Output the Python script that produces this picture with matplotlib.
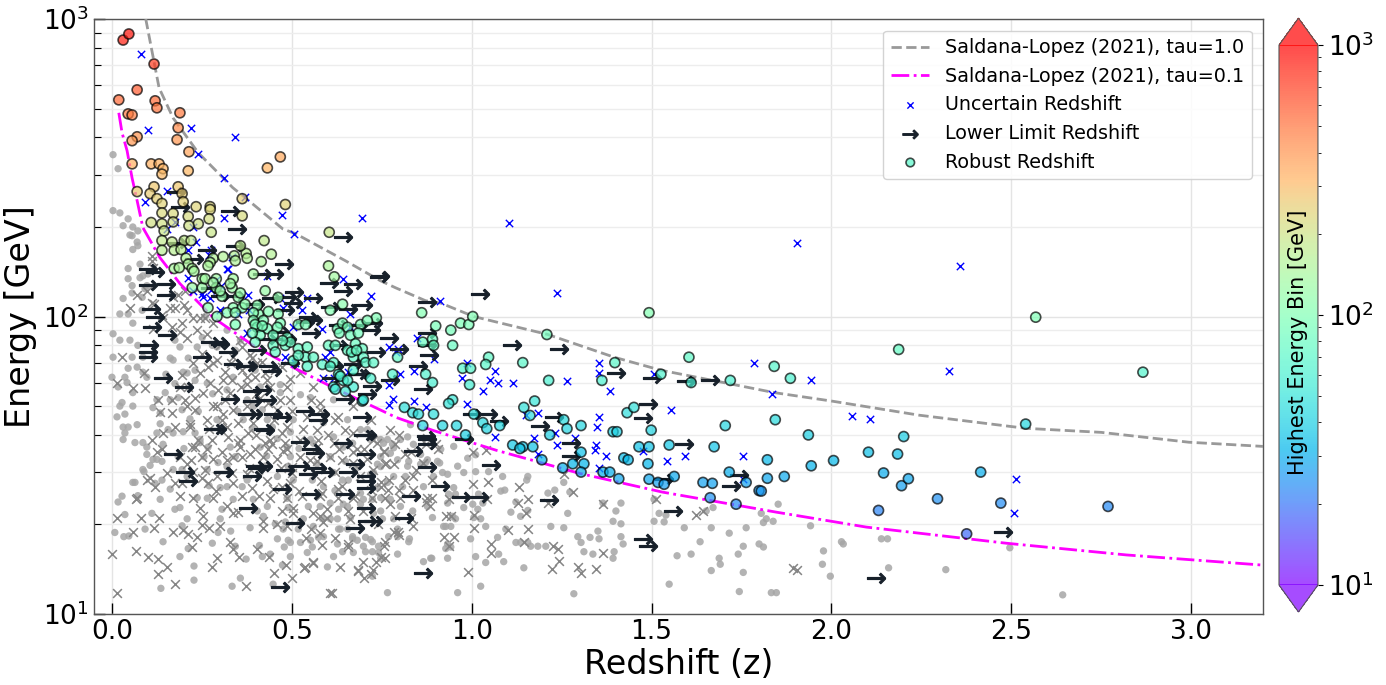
import numpy as np
import matplotlib
matplotlib.use("Agg")
import matplotlib.pyplot as plt
from matplotlib.colors import LogNorm

# ---------------- data (redshift z, energy GeV) ----------------
tau1_z = [0.094, 0.131, 0.17, 0.24, 0.336, 0.37, 0.475, 0.51, 0.649, 0.746, 0.788, 0.872, 0.914,
          1.006, 1.212, 1.396, 1.526, 1.70, 1.841, 2.0, 2.244, 2.54, 2.75, 2.994, 3.2]
tau1_E = [1000, 587, 465, 355, 271, 251, 197, 190, 154, 132, 125, 113, 111,
          100, 87, 73, 66, 60, 55.5, 52, 46.6, 42.1, 40.8, 37.8, 36.6]

tau01_z = [0.019, 0.028, 0.042, 0.056, 0.070, 0.086, 0.133, 0.189, 0.281, 0.392, 0.503, 0.614,
           0.79, 0.893, 1.069, 1.3, 1.53, 1.847, 2.097, 2.486, 2.82, 3.2]
tau01_E = [484, 415, 361, 292, 245, 199, 158, 129, 99.3, 80, 67.5, 57.8,
           45.8, 41.4, 35.5, 29.7, 25.7, 22.0, 19.6, 17.3, 15.8, 14.6]

robust_pts = [
    (0.585, 69), (0.031, 850), (0.047, 891), (0.117, 706), (0.070, 578), (0.019, 535), (0.120, 531), (0.125, 503),
    (0.045, 480), (0.056, 476), (0.189, 484), (0.184, 431), (0.181, 393), (0.070, 402), (0.056, 390), (0.214, 358),
    (0.468, 344), (0.432, 316), (0.056, 326), (0.109, 326), (0.131, 326), (0.142, 314), (0.139, 301), (0.212, 309),
    (0.117, 273), (0.184, 273), (0.195, 259), (0.070, 263), (0.106, 259), (0.125, 249), (0.139, 240), (0.198, 243),
    (0.234, 234), (0.273, 234), (0.273, 229), (0.362, 249), (0.482, 238), (0.139, 223), (0.170, 222), (0.212, 217),
    (0.270, 213), (0.362, 218), (0.109, 207), (0.139, 205), (0.170, 208), (0.240, 205), (0.214, 202), (0.604, 192),
    (0.145, 194), (0.276, 192), (0.139, 180), (0.167, 178), (0.201, 180), (0.220, 180), (0.139, 167), (0.173, 167),
    (0.192, 168), (0.206, 157), (0.212, 150), (0.281, 157), (0.309, 159), (0.340, 160), (0.343, 154), (0.373, 163),
    (0.376, 157), (0.273, 152), (0.267, 148), (0.173, 145), (0.187, 146), (0.223, 145), (0.228, 142), (0.251, 134),
    (0.290, 134), (0.337, 134), (0.223, 125), (0.251, 125), (0.290, 125), (0.334, 125), (0.423, 180), (0.443, 162),
    (0.415, 153), (0.393, 139), (0.426, 122), (0.602, 148), (0.618, 136), (0.641, 110), (0.462, 116), (0.462, 102),
    (0.351, 116), (0.306, 117), (0.267, 107), (0.337, 107), (0.362, 107), (0.320, 103), (0.407, 102), (0.435, 104),
    (0.735, 99), (0.861, 103), (0.357, 173), (0.259, 134), (0.281, 130), (0.329, 129), (0.301, 122), (0.357, 120),
    (0.292, 100), (0.370, 110), (0.404, 109), (0.393, 103), (0.421, 97), (0.393, 97), (0.468, 95), (0.404, 92),
    (0.432, 91), (0.460, 92), (0.412, 86.5), (0.448, 86.5), (0.487, 85), (0.398, 82), (0.448, 80), (0.482, 80),
    (0.518, 78), (0.538, 73), (0.560, 73), (0.504, 71), (0.496, 82), (0.627, 91), (0.641, 95), (0.655, 92),
    (0.691, 94), (0.710, 97), (0.663, 86.5), (0.677, 81), (0.655, 77), (0.671, 73), (0.696, 78), (0.699, 73),
    (0.671, 66), (0.643, 61), (0.671, 58), (0.616, 58), (0.696, 52), (0.616, 70), (0.630, 64), (0.780, 64),
    (0.794, 73), (0.719, 62), (0.343, 103), (0.343, 94), (0.398, 94), (0.418, 93), (0.390, 88), (0.474, 83),
    (0.454, 76), (0.518, 94), (0.538, 94), (0.607, 105), (0.632, 88), (0.685, 88), (0.602, 80), (0.621, 80),
    (0.543, 79), (0.518, 74), (0.543, 68), (0.607, 68), (0.666, 76), (0.680, 77), (0.705, 70), (0.727, 70),
    (0.635, 63), (0.655, 61), (0.649, 56), (0.621, 57), (0.699, 52.5), (0.900, 93), (0.969, 95), (0.992, 94),
    (1.003, 100), (0.942, 90), (0.864, 82), (0.891, 84), (0.894, 80), (0.947, 80), (0.872, 64), (0.975, 67),
    (0.997, 67), (1.047, 73), (0.994, 59), (0.947, 52.5), (0.936, 51), (0.813, 49.5), (0.836, 47.5), (0.852, 47),
    (0.894, 47), (0.864, 43), (0.919, 43), (0.958, 43), (1.006, 47), (1.031, 44), (1.042, 42), (0.983, 40),
    (1.039, 69), (0.891, 60), (1.142, 70), (1.214, 61), (1.209, 87), (1.493, 103), (1.398, 70), (1.362, 61),
    (1.526, 64), (1.610, 60), (1.604, 73), (1.719, 61), (1.841, 68), (1.078, 43), (1.145, 49.5), (1.175, 52),
    (1.162, 46.5), (1.256, 45), (1.265, 42), (1.304, 43), (1.217, 40), (1.114, 37), (1.142, 36.5), (1.432, 47.5),
    (1.451, 49.5), (1.393, 41), (1.404, 41), (1.499, 41.5), (1.465, 36.5), (1.493, 36.5), (1.549, 37), (1.674, 36.5),
    (1.705, 43), (1.844, 45), (1.134, 36), (1.170, 36.5), (1.195, 33), (1.253, 31), (1.281, 32), (1.304, 35),
    (1.312, 32), (1.304, 30), (1.365, 30), (1.384, 30), (1.409, 28.5), (1.423, 33.5), (1.435, 33), (1.490, 32),
    (1.493, 28.4), (1.518, 27.7), (1.535, 27.3), (1.563, 29), (1.643, 27.7), (1.669, 27.5), (1.716, 30), (1.763, 27.7),
    (1.822, 33), (1.822, 28.6), (1.799, 26), (1.663, 24.6), (1.735, 23.4), (2.568, 99.5), (2.187, 77.5), (1.886, 62),
    (2.866, 65), (1.936, 40), (2.540, 43.5), (2.201, 39.5), (2.006, 32.8), (2.103, 35), (2.184, 34.5), (1.869, 29),
    (1.944, 31.5), (2.145, 29.8), (2.195, 27), (2.214, 28.5), (2.415, 30), (1.805, 25.9), (2.295, 24.4), (2.471, 23.6),
    (2.769, 23), (2.131, 22.3), (2.376, 18.6),
]

uncertain_pts = [
    (0.081, 763), (0.100, 424), (0.220, 431), (0.343, 402), (0.240, 352), (0.312, 292), (0.371, 252), (0.092, 243),
    (0.153, 265), (0.473, 220), (0.696, 215), (0.312, 215), (0.507, 190), (0.153, 197), (0.175, 208), (0.226, 200),
    (0.234, 178), (0.212, 167), (0.270, 161), (0.334, 158), (0.320, 144), (0.212, 135), (0.432, 137), (0.290, 133),
    (0.304, 127), (0.643, 134), (0.719, 117), (0.226, 122), (0.251, 119), (0.379, 118), (0.468, 115), (0.543, 115),
    (0.476, 107), (0.529, 105), (0.351, 102), (0.663, 102), (0.301, 105), (0.323, 145), (0.276, 167), (0.276, 123),
    (0.253, 116), (0.273, 115), (0.382, 105), (0.376, 88), (0.504, 92), (0.585, 91), (0.663, 92), (0.593, 73),
    (0.607, 76), (0.482, 73), (0.510, 70), (0.588, 62), (0.616, 62), (0.655, 65), (0.769, 59), (0.769, 50.5),
    (0.769, 79), (0.794, 78), (1.103, 207), (1.237, 120), (0.911, 113), (0.847, 85), (0.894, 72), (0.841, 65.5),
    (0.802, 64), (0.791, 76), (0.986, 70), (0.972, 62), (1.064, 65.5), (1.050, 61), (1.072, 60), (1.114, 60),
    (1.031, 56), (1.265, 60.5), (1.354, 70), (1.354, 64.5), (1.384, 56), (1.507, 64), (1.786, 70), (1.836, 55),
    (1.554, 48.6), (0.780, 53), (0.841, 52), (0.872, 49.5), (0.986, 51), (1.064, 39.5), (1.173, 39), (1.184, 47.5),
    (1.237, 37), (1.231, 40.5), (1.287, 39), (1.354, 46), (1.348, 42.5), (1.345, 37), (1.150, 46.5), (1.184, 34.5),
    (1.343, 35.5), (1.373, 34), (1.354, 31), (1.476, 35.2), (1.543, 32.8), (1.593, 34), (1.755, 34), (1.755, 28.4),
    (1.905, 177), (2.357, 148), (2.326, 65.5), (1.944, 61), (2.058, 46.4), (2.106, 45.3), (2.513, 28.5), (2.507, 21.9),
]

lower_limit_pts = [
    (0.178, 263), (0.189, 233), (0.329, 227), (0.348, 197), (0.343, 172), (0.265, 168), (0.641, 185), (0.741, 136),
    (0.479, 150), (0.418, 139), (0.451, 139), (0.228, 156), (0.181, 176), (0.100, 145), (0.120, 141), (0.100, 128),
    (0.150, 129), (0.150, 118), (0.273, 125), (0.301, 117), (0.343, 117), (0.398, 110), (0.443, 115), (0.487, 116),
    (0.507, 121), (0.504, 111), (0.482, 105), (0.560, 115), (0.602, 130), (0.641, 122), (0.671, 129), (0.607, 108),
    (0.657, 106), (0.699, 109), (0.546, 99.5), (0.109, 106), (0.120, 100), (0.111, 92), (0.153, 87), (0.103, 80),
    (0.100, 76), (0.100, 73), (0.142, 62), (0.201, 58), (0.251, 73), (0.273, 82), (0.295, 82), (0.323, 76),
    (0.337, 69), (0.301, 81), (0.329, 53), (0.376, 47), (0.418, 56.5), (0.390, 52), (0.426, 41.7), (0.448, 47),
    (0.474, 46), (0.281, 42), (0.309, 30), (0.203, 30), (0.170, 34.4), (0.404, 31), (0.474, 26.3), (0.379, 68),
    (0.435, 68), (0.212, 28), (0.312, 30), (0.398, 31.5), (0.421, 31.5), (0.390, 29), (0.379, 22.7), (0.482, 30.6),
    (0.524, 31.5), (0.546, 29.5), (0.571, 31), (0.593, 30), (0.552, 25.3), (0.510, 20.3), (0.655, 30), (0.677, 32),
    (0.649, 25.3), (0.705, 34.4), (0.705, 29), (0.705, 28), (0.705, 26.6), (0.705, 22.7), (0.710, 20.6), (0.727, 20.6),
    (0.677, 19.5), (0.468, 12.3), (0.524, 37.9), (0.552, 35.8), (0.565, 34.8), (0.643, 37.5), (0.699, 40), (0.627, 94),
    (0.685, 94), (0.727, 95), (0.560, 97), (0.538, 96), (0.468, 89), (0.432, 84), (0.404, 77), (0.627, 80),
    (0.735, 76), (0.616, 68), (0.691, 64), (0.724, 58.5), (0.370, 68), (0.446, 65.5), (0.390, 56), (0.432, 52.5),
    (0.538, 48), (0.579, 47), (0.574, 45), (0.649, 53), (0.710, 55), (0.696, 46), (0.710, 40), (0.421, 42),
    (0.393, 47), (0.292, 42), (0.838, 35.4), (0.877, 37.2), (0.872, 39.8), (0.877, 31.2), (0.830, 24.9), (0.811, 21.1),
    (0.911, 27), (0.969, 24.8), (1.019, 24.8), (0.864, 13.7), (1.053, 31.8), (1.214, 24.1), (1.276, 37.5), (1.276, 34),
    (1.476, 17.9), (1.490, 16.9), (1.560, 22.2), (1.535, 28.4), (1.744, 29.3), (1.721, 27.0), (1.590, 37.2), (0.746, 137),
    (1.022, 119), (0.877, 112), (0.769, 85), (0.799, 78), (0.877, 88), (0.877, 80), (0.880, 74), (0.852, 68),
    (0.774, 61), (0.864, 57), (1.111, 80), (1.242, 77.5), (1.401, 64.5), (1.501, 62), (1.596, 60.5), (1.663, 61),
    (1.490, 51), (1.476, 45.5), (1.228, 46), (1.189, 43), (1.045, 47), (1.000, 47), (1.075, 44.5), (0.877, 38.8),
    (0.978, 38.8), (2.476, 18.8), (2.123, 13.2), (0.720, 90), (0.671, 69), (0.682, 64), (0.610, 62), (0.552, 88),
    (0.487, 84), (0.496, 70),
]

background_dot_pts = [
    (0.003, 350), (0.017, 314), (0.003, 227), (0.022, 223), (0.045, 213), (0.031, 202), (0.058, 200), (0.050, 188),
    (0.072, 194), (0.070, 178), (0.058, 168), (0.072, 173), (0.045, 134), (0.056, 127), (0.086, 137), (0.092, 124),
    (0.084, 116), (0.022, 102), (0.045, 102), (0.056, 187), (0.078, 150), (0.045, 145), (0.078, 135), (0.056, 120),
    (0.031, 115), (0.003, 87.5), (0.022, 83.3), (0.050, 83.3), (0.003, 73), (0.000, 62.5), (0.017, 58), (0.036, 62.5),
    (0.028, 51.4), (0.014, 46), (0.031, 42.5), (0.031, 38.6), (0.058, 55.5), (0.070, 67.6), (0.086, 73), (0.097, 62.5),
    (0.084, 105), (0.097, 127), (0.100, 139), (0.058, 95), (0.072, 80), (0.056, 73), (0.045, 67), (0.042, 60),
    (0.086, 65), (0.022, 50), (0.036, 47), (0.058, 50), (0.045, 42.5), (0.070, 43.3), (0.036, 40.6), (0.086, 37.7),
    (0.097, 36.4), (0.064, 37.7), (0.097, 34.4), (0.114, 33.1), (0.086, 30.6), (0.139, 32.6), (0.120, 27.5), (0.064, 27.7),
    (0.142, 37.2), (0.156, 41.7), (0.134, 43.6), (0.114, 49.4), (0.148, 55.5), (0.175, 59.5), (0.184, 53.4), (0.195, 48.6),
    (0.217, 45.3), (0.198, 41), (0.125, 52.5), (0.175, 83.3), (0.189, 79), (0.162, 72.5), (0.212, 72.5), (0.231, 66),
    (0.198, 65), (0.058, 27.7), (0.017, 23.8), (0.028, 24.9), (0.036, 21.6), (0.008, 18.8), (0.033, 18.2), (0.047, 18.3),
    (0.072, 25), (0.089, 30.1), (0.106, 31.6), (0.092, 19.3), (0.111, 21.8), (0.142, 17.5), (0.136, 12.2), (0.139, 28.2),
    (0.162, 26.3), (0.175, 22.5), (0.195, 19.8), (0.189, 15.6), (0.212, 16.6), (0.228, 14.5), (0.228, 13), (0.245, 37.7),
    (0.256, 33.8), (0.279, 17.3), (0.301, 26.6), (0.295, 18.8), (0.334, 12.4), (0.357, 13.2), (0.373, 15.3), (0.343, 16.9),
    (0.404, 22.2), (0.421, 21.3), (0.418, 15.6), (0.440, 15.9), (0.448, 12.6), (0.460, 17.9), (0.454, 20.1), (0.482, 20.4),
    (0.479, 16.8), (0.474, 14.6), (0.496, 17.4), (0.518, 19.3), (0.557, 16.8), (0.574, 18.1), (0.599, 14.4), (0.616, 15.6),
    (0.641, 16.2), (0.635, 19.3), (0.669, 17.9), (0.671, 16.1), (0.705, 16.2), (0.719, 17.8), (0.741, 16.1), (0.766, 11.8),
    (0.794, 15.9), (0.794, 18.2), (0.231, 40.6), (0.267, 36.4), (0.295, 32.3), (0.184, 33.8), (0.195, 30.6), (0.320, 26.8),
    (0.362, 26.8), (0.237, 24.6), (0.393, 49.9), (0.418, 48.6), (0.376, 52.5), (0.320, 56.7), (0.231, 61), (0.343, 33.8),
    (0.446, 42.5), (0.460, 38.9), (0.426, 31.4), (0.490, 31.4), (0.496, 40.9), (0.279, 80), (0.251, 85), (0.259, 100),
    (0.125, 33.1), (0.170, 30.6), (0.209, 29), (0.265, 30.6), (0.320, 31.3), (0.376, 28.2), (0.412, 29.9), (0.460, 29),
    (0.557, 28.2), (0.616, 29.9), (0.657, 28.2), (0.727, 29.9), (0.783, 29), (0.134, 24.3), (0.189, 22.8), (0.265, 24.5),
    (0.306, 22.5), (0.337, 24.3), (0.393, 24.3), (0.432, 23), (0.487, 24.5), (0.546, 23), (0.607, 23.6), (0.655, 23),
    (0.699, 24.3), (0.747, 22.2), (0.783, 20.9), (0.209, 20.9), (0.301, 20.9), (0.384, 19.5), (0.524, 20.4), (0.627, 20.9),
    (0.552, 38.6), (0.616, 39.4), (0.669, 37.5), (0.719, 38.6), (0.496, 33.8), (0.607, 33.8), (0.649, 32.6), (0.738, 31.9),
    (0.504, 28.2), (0.588, 26.8), (0.641, 28.2), (0.719, 29.5), (0.490, 22.8), (0.579, 23), (0.630, 22.5), (0.532, 20.9),
    (0.476, 19.3), (0.766, 38.6), (0.822, 39.4), (0.783, 36.2), (0.774, 34.7), (0.838, 37.2), (0.911, 32.2), (0.894, 29),
    (0.933, 29.5), (0.950, 26.6), (0.822, 31.4), (0.816, 29), (0.808, 26.8), (0.866, 26.8), (0.877, 23), (0.891, 21.1),
    (0.836, 22.2), (0.802, 23), (0.933, 23.6), (0.955, 25.3), (0.922, 19.7), (0.942, 19.7), (0.955, 20.9), (0.933, 17.2),
    (0.928, 16.6), (0.933, 15.4), (0.942, 16.8), (0.866, 15), (0.886, 15.4), (0.825, 17.5), (0.769, 18.2), (0.741, 16.9),
    (0.724, 17.5), (0.705, 18.1), (0.724, 16.2), (0.747, 15.4), (0.669, 18.2), (0.655, 19.3), (0.961, 11.8), (1.025, 12.4),
    (1.011, 15.6), (1.039, 14.9), (1.075, 15.9), (1.109, 22), (1.123, 23.8), (1.136, 21.3), (1.153, 28.2), (1.086, 29),
    (1.081, 25.9), (1.047, 30.1), (1.011, 30.1), (1.017, 22.5), (1.039, 19.7), (1.072, 18.1), (1.095, 19.3), (1.123, 17.4),
    (1.156, 17.4), (1.145, 14.3), (1.003, 23.4), (0.978, 22.8), (1.011, 34.3), (0.989, 33.4), (0.961, 31.4), (0.978, 29.9),
    (0.950, 36.6), (0.914, 35.8), (0.877, 33), (0.858, 31.9), (0.825, 32.6), (0.794, 33), (0.747, 31.3), (0.747, 33.8),
    (0.738, 26.6), (0.747, 24.6), (0.774, 24.3), (0.691, 25.5), (0.724, 24.3), (0.691, 23.4), (0.727, 21.8), (0.643, 23.4),
    (0.663, 21.1), (0.630, 19.3), (0.607, 20.9), (0.585, 20.9), (0.560, 19.7), (0.552, 17.7), (0.543, 16.1), (0.524, 17.4),
    (0.496, 15.6), (0.490, 17.7), (0.588, 18.2), (0.627, 17.2), (0.699, 16.9), (0.724, 13.4), (0.682, 17.7), (1.092, 26.1),
    (1.156, 29), (1.156, 22.3), (1.212, 25.5), (1.231, 26.1), (1.256, 27.7), (1.273, 25.7), (1.267, 21.8), (1.220, 19.7),
    (1.256, 19.5), (1.295, 18.2), (1.304, 17.4), (1.329, 18.1), (1.351, 19), (1.354, 17.9), (1.312, 16.2), (1.337, 15.9),
    (1.396, 16.2), (1.393, 15.4), (1.421, 17.2), (1.415, 18.2), (1.415, 20.1), (1.393, 20.5), (1.401, 22.2), (1.365, 23.6),
    (1.415, 23.6), (1.284, 11.7), (1.184, 16.9), (1.206, 16.9), (1.136, 17.4), (1.164, 16.9), (1.089, 15), (0.889, 15.4),
    (0.928, 19.7), (0.947, 21.3), (0.936, 25.3), (0.905, 32.6), (0.919, 29.9), (1.031, 23.6), (1.019, 25.3), (1.006, 21.1),
    (1.025, 20.9), (0.997, 17.9), (0.872, 32.3), (0.827, 17.9), (0.794, 19.3), (0.752, 20.9), (0.766, 27.7), (1.507, 24.3),
    (1.521, 21.8), (1.540, 21.5), (1.535, 20.4), (1.507, 20.5), (1.549, 12.6), (1.571, 15.7), (1.591, 19.5), (1.610, 15.9),
    (1.635, 17.5), (1.652, 22.2), (1.666, 19.5), (1.688, 15.4), (1.691, 14.7), (1.666, 14.0), (1.716, 18.7), (1.741, 15.9),
    (1.755, 16.9), (1.744, 11.9), (1.755, 13.8), (1.763, 19.5), (1.805, 21.8), (1.819, 20.9), (1.799, 17.2), (1.833, 11.8),
    (1.847, 11.8), (1.852, 23.4), (1.671, 22.8), (1.838, 20.5), (1.811, 20.3), (1.942, 19.8), (1.811, 16.8), (1.978, 16.3),
    (1.975, 14.7), (1.997, 13.4), (2.028, 17.5), (2.033, 17.2), (2.139, 17.9), (2.156, 17.9), (2.159, 14.3), (2.318, 14.1),
    (2.496, 16.7), (2.643, 11.6), (0.170, 71.4), (0.209, 64.6), (0.265, 59.7), (0.337, 62.5), (0.412, 58), (0.468, 55.5),
    (0.552, 53.4), (0.616, 52.5), (0.292, 45), (0.365, 45), (0.432, 45), (0.504, 45), (0.588, 44), (0.655, 45),
    (0.710, 41.7), (0.170, 40.6), (0.245, 38.6), (0.329, 36.4), (0.412, 36.4), (0.487, 36.4), (0.560, 37.5), (0.643, 36.4),
    (0.755, 37.5), (0.134, 47.4), (0.125, 40.6), (0.162, 52.5), (0.237, 79), (0.292, 79), (0.357, 83.3), (0.320, 90),
    (0.343, 77), (0.398, 66), (0.468, 59), (0.524, 54.6), (0.593, 46.8), (0.691, 41.7), (0.747, 38.6), (0.802, 38.6),
    (0.830, 43.3), (0.780, 37.2), (0.858, 34.4), (0.24, 48), (0.28, 55), (0.35, 48), (0.39, 42), (0.43, 34),
    (0.52, 36), (0.57, 32), (0.62, 26), (0.68, 31), (0.27, 27), (0.33, 19), (0.41, 17), (0.20, 36), (0.15, 64),
]

background_cross_pts = [
    (0.111, 160), (0.114, 146), (0.097, 122), (0.111, 111), (0.028, 73), (0.014, 59.9), (0.058, 57.5), (0.089, 64.6),
    (0.162, 107), (0.167, 92), (0.170, 116), (0.209, 105), (0.195, 94.8), (0.245, 99.2), (0.237, 89.9), (0.209, 85),
    (0.265, 87.5), (0.281, 94.8), (0.111, 154), (0.070, 118), (0.050, 107), (0.117, 110), (0.184, 118), (0.203, 122),
    (0.175, 107), (0.139, 101), (0.226, 99.2), (0.259, 99.2), (0.092, 57.5), (0.128, 52.5), (0.167, 52.5), (0.134, 47.9),
    (0.167, 47.5), (0.175, 42.5), (0.142, 40.6), (0.125, 35), (0.153, 29.9), (0.175, 27.5), (0.097, 28.2), (0.070, 24.6),
    (0.114, 91), (0.142, 99.2), (0.201, 109), (0.189, 88.5), (0.195, 63.6), (0.212, 58), (0.203, 52.5), (0.231, 53.4),
    (0.231, 48.6), (0.217, 43.6), (0.240, 38.6), (0.223, 36.4), (0.251, 33.8), (0.209, 31.9), (0.226, 30.1), (0.259, 30.6),
    (0.267, 27.5), (0.273, 60), (0.267, 67.6), (0.292, 71.4), (0.315, 65), (0.334, 61.2), (0.295, 56.7), (0.315, 52.5),
    (0.281, 50), (0.337, 48.6), (0.306, 45), (0.351, 44), (0.323, 39.4), (0.279, 38.6), (0.351, 37.5), (0.306, 35),
    (0.362, 33.6), (0.334, 29.9), (0.376, 29.5), (0.398, 36), (0.421, 33.8), (0.446, 37.2), (0.476, 35.2), (0.474, 40.6),
    (0.426, 37.5), (0.379, 40.6), (0.435, 51.4), (0.468, 52.5), (0.487, 58), (0.496, 61.7), (0.474, 67.6), (0.398, 62.5),
    (0.376, 59.5), (0.362, 66.1), (0.426, 64.6), (0.390, 72.5), (0.362, 79), (0.501, 29.9), (0.474, 26.8), (0.390, 26.6),
    (0.440, 24.6), (0.014, 11.8), (0.014, 21.1), (0.000, 15.9), (0.067, 24.4), (0.081, 21.1), (0.058, 18.9), (0.067, 16.3),
    (0.100, 15.6), (0.120, 26.8), (0.131, 21.1), (0.117, 19.4), (0.128, 15.3), (0.153, 14.4), (0.128, 13.6), (0.170, 18.9),
    (0.175, 12.6), (0.189, 25), (0.198, 19.1), (0.223, 16.8), (0.237, 18.2), (0.251, 19.9), (0.279, 14.4), (0.270, 19.5),
    (0.301, 19.7), (0.292, 15.4), (0.329, 17.5), (0.337, 16.6), (0.354, 15.6), (0.373, 12.4), (0.404, 16.5), (0.437, 15.6),
    (0.421, 19.5), (0.451, 13.7), (0.485, 14.6), (0.501, 13.2), (0.535, 14.3), (0.560, 14.8), (0.585, 17.1), (0.579, 18.7),
    (0.607, 11.8), (0.635, 14.4), (0.655, 17.2), (0.685, 13.9), (0.702, 13.2), (0.719, 13.6), (0.735, 15), (0.755, 16.9),
    (0.760, 15.4), (0.783, 18.8), (0.766, 26.1), (0.111, 38.6), (0.139, 35.8), (0.189, 33.6), (0.231, 36.4), (0.265, 35.8),
    (0.281, 33.1), (0.337, 33.8), (0.357, 36.4), (0.384, 34.4), (0.435, 35.8), (0.460, 33.1), (0.487, 36), (0.524, 33.8),
    (0.571, 36.4), (0.607, 33.6), (0.630, 35.8), (0.671, 35), (0.710, 33.1), (0.755, 35), (0.783, 31.9), (0.106, 28.6),
    (0.195, 27.5), (0.251, 28.6), (0.292, 29), (0.337, 27.5), (0.362, 25), (0.320, 23), (0.281, 24.5), (0.245, 22.8),
    (0.226, 24.5), (0.448, 26.3), (0.496, 27.5), (0.504, 22.8), (0.579, 25), (0.599, 22.5), (0.627, 26.3), (0.671, 24.5),
    (0.747, 27.7), (0.769, 28.2), (0.802, 24.5), (0.663, 20.9), (0.579, 21.3), (0.474, 22.2), (0.421, 20.5), (0.337, 21.9),
    (0.253, 21.3), (0.212, 18.6), (0.482, 37.5), (0.574, 38.6), (0.682, 35.8), (0.738, 37.5), (0.501, 31.3), (0.571, 32.6),
    (0.621, 30.1), (0.671, 32.3), (0.727, 30.6), (0.487, 24.5), (0.529, 25), (0.585, 25.5), (0.627, 24.5), (0.677, 25),
    (0.724, 24.6), (0.504, 21.8), (0.560, 21.8), (0.599, 21.1), (0.655, 22.2), (0.699, 22.2), (0.487, 19.7), (0.552, 19.3),
    (0.588, 20.4), (0.797, 40.1), (0.877, 39), (0.900, 37.2), (0.905, 35.8), (0.866, 32.3), (0.838, 29), (0.877, 24.6),
    (0.891, 24.6), (0.872, 23.8), (0.838, 26.1), (0.816, 28.2), (0.774, 23.4), (0.760, 24.6), (0.747, 26.8), (0.719, 26.1),
    (0.830, 21.1), (0.836, 19.7), (0.788, 21.3), (0.794, 18.8), (0.797, 18.4), (0.747, 15.6), (0.699, 15), (0.727, 14.1),
    (0.685, 14.1), (0.613, 11.8), (0.560, 15), (0.538, 14.4), (0.655, 16.8), (0.922, 18.2), (0.950, 18.1), (0.936, 16.9),
    (1.053, 17.2), (1.053, 16.1), (0.989, 13.8), (1.006, 21.6), (1.006, 19.5), (0.942, 21.3), (1.003, 27.3), (1.045, 27.7),
    (1.003, 35), (1.039, 35.5), (1.100, 19.1), (1.131, 26.8), (1.150, 21.8), (1.145, 17.5), (1.513, 24.3), (1.624, 21.6),
    (1.643, 22.2), (1.365, 23.4), (1.281, 25.7), (1.256, 29.5), (1.212, 23.6), (1.156, 24.3), (1.156, 19.3), (1.128, 23.6),
    (1.226, 16.9), (1.240, 16.6), (1.242, 15.1), (1.223, 14.2), (1.295, 14.4), (1.304, 13.7), (1.345, 14.2), (1.365, 16.1),
    (1.042, 24.4), (0.936, 24.3), (0.928, 21.4), (0.891, 28.2), (0.883, 23), (0.763, 32.3), (0.760, 17.4), (1.894, 14.3),
    (1.903, 14.1), (0.245, 64.6), (0.281, 69.6), (0.309, 61.2), (0.337, 73), (0.376, 62.5), (0.404, 69.6), (0.432, 61.2),
    (0.524, 64.6), (0.560, 58), (0.253, 55.5), (0.292, 50), (0.329, 55.5), (0.376, 50), (0.412, 53.4), (0.460, 48.6),
    (0.496, 52.5), (0.543, 46), (0.579, 51.4), (0.627, 46), (0.671, 50), (0.719, 45), (0.265, 45), (0.320, 42.5),
    (0.357, 38.6), (0.393, 44), (0.440, 38.6), (0.487, 42.5), (0.524, 38.6), (0.571, 41.7), (0.616, 37.5), (0.671, 40.6),
    (0.727, 38.6), (0.774, 41.7), (0.217, 42.5), (0.209, 50), (0.189, 58), (0.226, 69.6), (0.357, 83.3), (0.384, 74.2),
    (0.418, 70.2), (0.454, 66.1), (0.552, 52.5), (0.579, 48.6), (0.621, 45), (0.649, 41.7), (0.788, 37.2), (0.830, 35),
    (0.755, 35.2), (0.760, 31.9), (0.797, 26.1), (0.816, 34.4), (0.844, 30.6), (0.872, 37.2),
    (0.25, 75), (0.30, 80), (0.33, 70), (0.36, 58), (0.40, 55), (0.44, 58), (0.45, 45), (0.50, 48),
    (0.53, 42), (0.55, 33), (0.60, 40), (0.64, 33), (0.69, 29), (0.74, 20), (0.62, 18), (0.52, 26),
    (0.43, 28), (0.40, 40), (0.31, 47), (0.27, 42), (0.22, 33), (0.29, 26), (0.35, 22), (0.41, 25),
    (0.47, 31), (0.58, 28), (0.64, 27), (0.70, 36), (0.32, 33), (0.38, 31), (0.46, 20), (0.54, 18),
]

x_ticks = [0.0, 0.5, 1.0, 1.5, 2.0, 2.5, 3.0]

# ---------------- figure ----------------
fig = plt.figure(figsize=(13.86, 6.85), dpi=100)
ax = fig.add_axes([0.0678, 0.1036, 0.8435, 0.8686])
cax = fig.add_axes([0.9228, 0.1066, 0.0281, 0.867])

ax.set_yscale("log")
ax.set_xlim(-0.05, 3.2)
ax.set_ylim(10, 1000)
ax.set_axisbelow(True)
ax.grid(True, which="major", color="#e4e4e4", lw=1.0)
ax.grid(True, which="minor", axis="y", color="#ededed", lw=1.0)

bz, bE = np.array(background_dot_pts).T
ax.scatter(bz, bE, s=28, color="#a6a6a6", alpha=0.85, edgecolors="none", zorder=1)
cz, cE = np.array(background_cross_pts).T
ax.scatter(cz, cE, s=40, marker="x", color="#858585", linewidths=1.1, zorder=1)

ax.plot(tau1_z, tau1_E, linestyle="--", color="#999999", lw=2,
        label="Saldana-Lopez (2021), tau=1.0", zorder=3)
ax.plot(tau01_z, tau01_E, linestyle="-.", color="magenta", lw=2,
        label="Saldana-Lopez (2021), tau=0.1", zorder=3)

uz, uE = np.array(uncertain_pts).T
ax.scatter(uz, uE, marker="x", color="blue", s=28, linewidths=1.0,
           label="Uncertain Redshift", zorder=4)
lz, lE = np.array(lower_limit_pts).T
ax.scatter(lz, lE, marker=r"$\rightarrow$", color="#17202a", s=170, linewidths=0.8,
           label="Lower Limit Redshift", zorder=4)
rz, rE = np.array(robust_pts).T
sc = ax.scatter(rz, rE, c=rE, cmap="rainbow", norm=LogNorm(vmin=10, vmax=1000), s=52,
                edgecolors="black", linewidths=1.2, alpha=0.7,
                label="Robust Redshift", zorder=5)

ax.set_xticks(x_ticks)
ax.tick_params(which="both", direction="in", labelsize=19, top=False, right=False)
ax.tick_params(which="major", length=8, width=1)
ax.tick_params(which="minor", length=5, width=0.8)
for sp in ax.spines.values():
    sp.set_color("#555555")
    sp.set_linewidth(1.0)

ax.set_xlabel("Redshift (z)", fontsize=24, labelpad=2)
ax.set_ylabel("Energy [GeV]", fontsize=24, labelpad=4)

leg = ax.legend(loc="upper right", fontsize=13.8, markerscale=0.85, framealpha=0.85,
                borderaxespad=0.6)

cbar = fig.colorbar(sc, cax=cax, extend="both")
cbar.ax.tick_params(labelsize=19)
cbar.outline.set_edgecolor("#555555")
cbar.outline.set_linewidth(0.8)
cbar.ax.text(0.5, 0.45, "Highest Energy Bin [GeV]", rotation=90, ha="center", va="center",
             transform=cbar.ax.transAxes, fontsize=15)

fig.savefig("out.png", dpi=100)
